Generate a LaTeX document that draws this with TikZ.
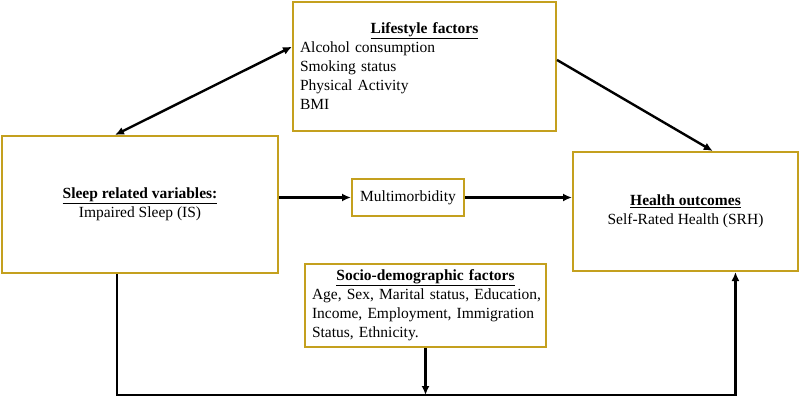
\documentclass[tikz,border=0pt]{standalone}
\usepackage{fontspec}
\setmainfont{Liberation Serif}
\usetikzlibrary{arrows.meta,calc}
\definecolor{gold}{RGB}{196,160,30}
\begin{document}
\begin{tikzpicture}[x=1pt,y=-1pt,
  box/.style={draw=gold,line width=2pt,rectangle,inner sep=0pt,font=\fontsize{15.5}{19}\selectfont},
  conn/.style={line width=2.4pt,-{Latex[length=9pt,width=8pt]}},
  dconn/.style={line width=2.4pt,{Latex[length=9pt,width=8pt]}-{Latex[length=9pt,width=8pt]}},
]
\useasboundingbox (0,0) rectangle (800,401);
\node[box,minimum width=263pt,minimum height=129pt,text width=249pt,align=left] (life) at (424.5,66.5)
  {\makebox[\linewidth]{\underline{\textbf{Lifestyle factors}}}\\Alcohol consumption\\Smoking status\\Physical Activity\\BMI};
\node[box,minimum width=276pt,minimum height=137pt,align=center] (sleep) at (140,204.5)
  {\underline{\textbf{Sleep related variables:}}\\Impaired Sleep (IS)};
\node[box,minimum width=225pt,minimum height=119pt,align=center] (health) at (685.5,211.5)
  {\underline{\textbf{Health outcomes}}\\Self-Rated Health (SRH)};
\node[box,minimum width=112pt,minimum height=37pt] (mm) at (408,197.5) {Multimorbidity};
\node[box,minimum width=241pt,minimum height=83pt,text width=227pt,align=left] (socio) at (425.5,305.5)
  {\makebox[\linewidth]{\underline{\textbf{Socio-demographic factors}}}\\\mbox{Age, Sex, Marital status, Education,}\\\mbox{Income, Employment, Immigration}\\\mbox{Status, Ethnicity.}};

\coordinate (lw) at ($(life.north west)!0.349!(life.south west)$);
\coordinate (st) at ($(sleep.north west)!0.41!(sleep.north east)$);
\coordinate (le) at ($(life.north east)!0.45!(life.south east)$);
\coordinate (ht) at ($(health.north west)!0.62!(health.north east)$);
\coordinate (sb) at ($(sleep.south west)!0.417!(sleep.south east)$);
\coordinate (hb) at ($(health.south west)!0.72!(health.south east)$);
\coordinate (bl) at (sb |- 0,395);
\coordinate (br) at (hb |- 0,395);

\draw[dconn] (lw) -- (st);
\draw[conn] (le) -- (ht);
\draw[conn] (sleep.east |- mm.west) -- (mm.west);
\draw[conn] (mm.east) -- (health.west |- mm.east);
\draw[conn,line join=miter] (sb) -- (bl) -- (br) -- (hb);
\draw[conn] (socio.south) -- (socio.south |- bl);
\end{tikzpicture}
\end{document}
